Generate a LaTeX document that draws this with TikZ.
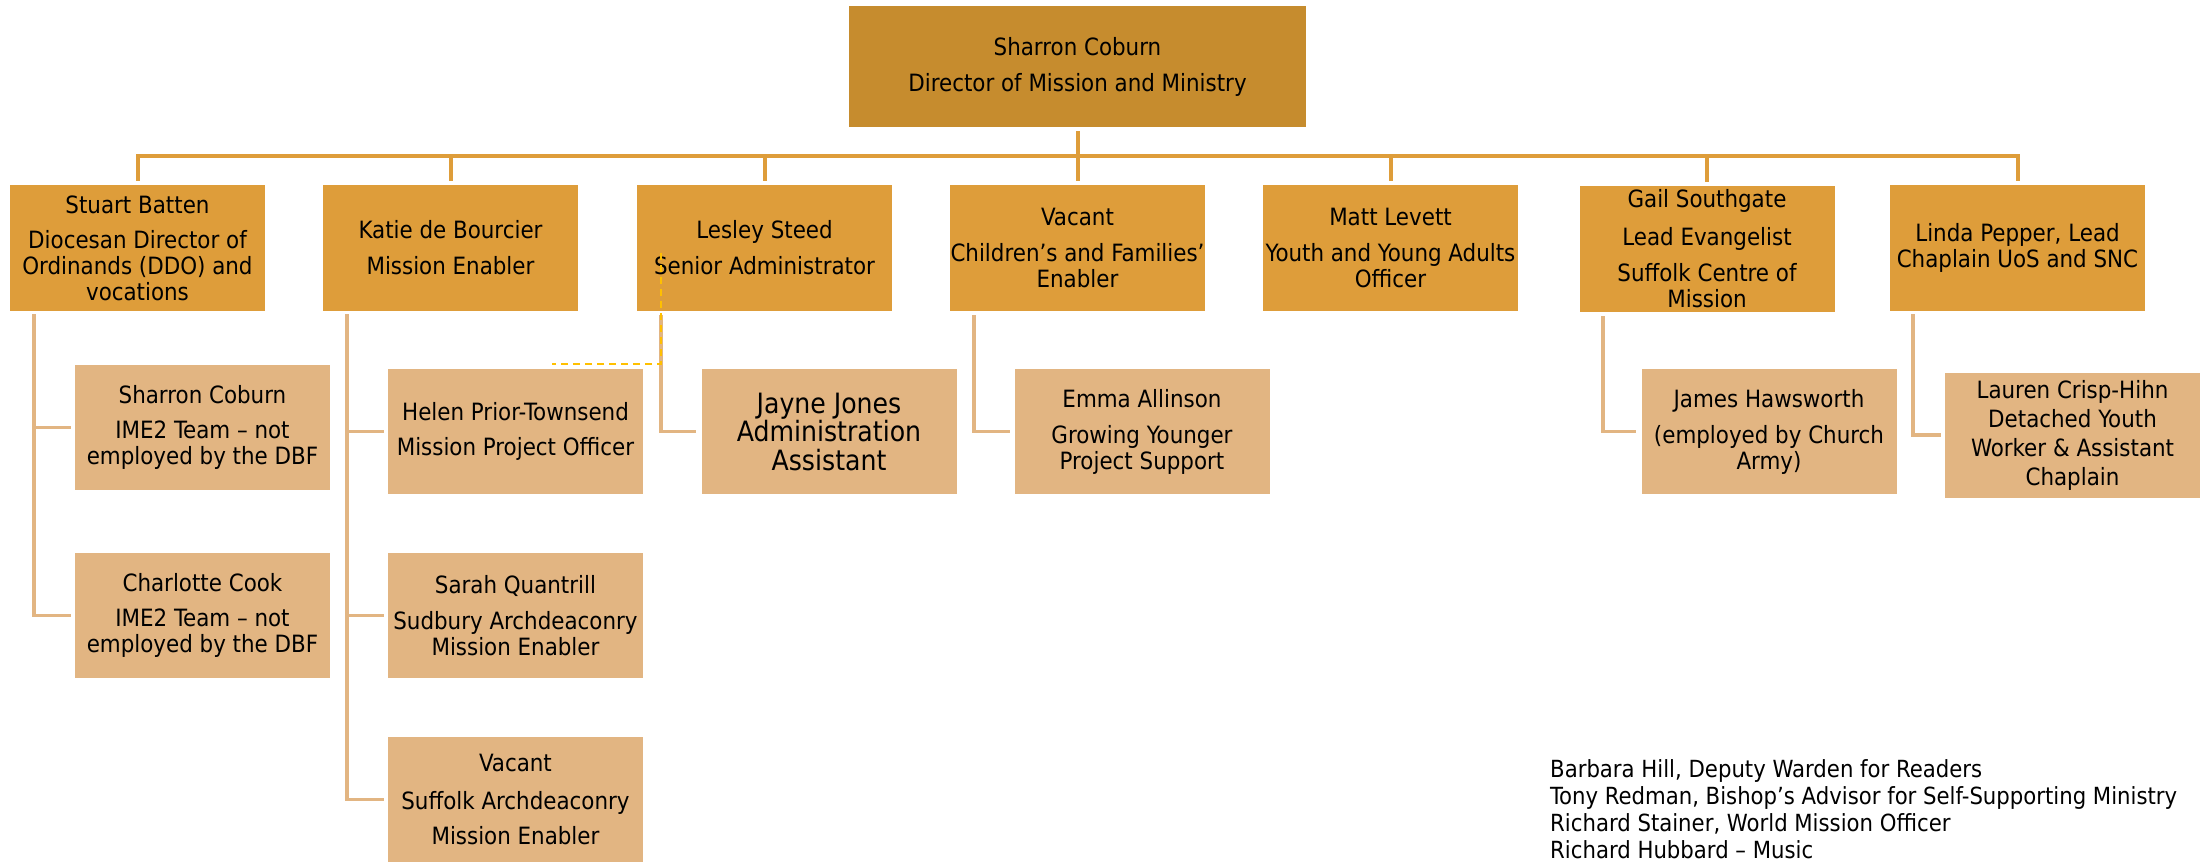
\documentclass[tikz,border=0pt]{standalone}
\usepackage{fontspec}
\setmainfont{DejaVu Sans Condensed}
\usetikzlibrary{calc}
\definecolor{topc}{HTML}{C68C2E}
\definecolor{midc}{HTML}{DE9D3A}
\definecolor{lightc}{HTML}{E2B582}
\definecolor{dashc}{HTML}{FFC000}
\begin{document}
\begin{tikzpicture}[x=1pt,y=-1pt,
  boxbase/.style={rectangle, inner sep=0pt, align=center, text=black, font=\fontsize{23.8}{26}\selectfont},
  topbox/.style={boxbase, fill=topc, minimum width=457pt, minimum height=121pt},
  lvtwo/.style={boxbase, fill=midc, minimum width=255pt, minimum height=126pt},
  lvthree/.style={boxbase, fill=lightc, minimum width=255pt, minimum height=125pt},
  mainline/.style={draw=midc, line width=4pt},
  subline/.style={draw=lightc, line width=3.5pt},
  dashline/.style={draw=dashc, line width=2.5pt, dash pattern=on 7pt off 5pt},
  foot/.style={anchor=base west, inner sep=0pt, text=black, font=\fontsize{23.6}{26}\selectfont}]
\useasboundingbox (0,0) rectangle (2212,864);

% top
\node[topbox] (top) at (1077.5,66.5) {Sharron Coburn\\[10pt]Director of Mission and Ministry};

% level 2
\node[lvtwo] (stuart) at (137.5,248) {Stuart Batten\\[9pt]Diocesan Director of\\Ordinands (DDO) and\\vocations};
\node[lvtwo] (katie) at (450.5,248) {Katie de Bourcier\\[10pt]Mission Enabler};
\node[lvtwo] (lesley) at (764.5,248) {Lesley Steed\\[10pt]Senior Administrator};
\node[lvtwo] (vacant) at (1077.5,248) {Vacant\\[10pt]Children’s and Families’\\Enabler};
\node[lvtwo] (matt) at (1390.5,248) {Matt Levett\\[10pt]Youth and Young Adults\\Officer};
\node[lvtwo] (gail) at (1707,249) {Gail Southgate\\[12pt]Lead Evangelist\\[10pt]Suffolk Centre of\\Mission};
\node[lvtwo] (linda) at (2017.5,248) {Linda Pepper, Lead\\Chaplain UoS and SNC};

% level 3
\node[lvthree] (sharron) at (202.5,427.5) {Sharron Coburn\\[9pt]IME2 Team – not\\employed by the DBF};
\node[lvthree] (charlotte) at (202.5,615.5) {Charlotte Cook\\[9pt]IME2 Team – not\\employed by the DBF};
\node[lvthree] (helen) at (515.5,431.5) {Helen Prior-Townsend\\[9pt]Mission Project Officer};
\node[lvthree] (sarah) at (515.5,615.5) {Sarah Quantrill\\[10pt]Sudbury Archdeaconry\\Mission Enabler};
\node[lvthree] (vacsuf) at (515.5,799.5) {Vacant\\[12pt]Suffolk Archdeaconry\\[9pt]Mission Enabler};
\node[lvthree, font=\fontsize{28}{28.5}\selectfont] (jayne) at (829,431.5) {Jayne Jones\\Administration\\Assistant};
\node[lvthree] (emma) at (1142,431.5) {Emma Allinson\\[10pt]Growing Younger\\Project Support};
\node[lvthree] (james) at (1769,431.5) {James Hawsworth\\[10pt](employed by Church\\Army)};
\node[lvthree, font=\fontsize{23.8}{29}\selectfont] (lauren) at (2072.5,435) {Lauren Crisp-Hihn\\Detached Youth\\Worker \& Assistant\\Chaplain};

% main connectors
\coordinate (bar) at (0,156);
\draw[mainline] ($(top.south)+(0,4)$) -- ($(vacant.north)+(0,-4)$);
\draw[mainline] ($(stuart.north)+(0,-4)$) -- (stuart.north |- bar) -- (linda.north |- bar) -- ($(linda.north)+(0,-4)$);
\foreach \n in {katie,lesley,matt,gail}
  \draw[mainline] (\n.north |- bar) -- ($(\n.north)+(0,-4)$);

% sub connectors
\coordinate (sx) at (34,0);
\coordinate (kx) at (347,0);
\coordinate (lx) at (661,0);
\coordinate (vx) at (974,0);
\coordinate (gx) at (1603,0);
\coordinate (dx) at (1913,0);
\draw[subline] ($(sx |- stuart.south)+(0,3)$) -- (sx |- charlotte.west) -- ($(charlotte.west)+(-4,0)$);
\draw[subline] (sx |- sharron.west) -- ($(sharron.west)+(-4,0)$);
\draw[subline] ($(kx |- katie.south)+(0,3)$) -- (kx |- vacsuf.west) -- ($(vacsuf.west)+(-4,0)$);
\draw[subline] (kx |- helen.west) -- ($(helen.west)+(-4,0)$);
\draw[subline] (kx |- sarah.west) -- ($(sarah.west)+(-4,0)$);
\draw[subline] ($(lx |- lesley.south)+(0,4)$) -- (lx |- jayne.west) -- ($(jayne.west)+(-5,0)$);
\draw[subline] ($(vx |- vacant.south)+(0,4)$) -- (vx |- emma.west) -- ($(emma.west)+(-4,0)$);
\draw[subline] ($(gx |- gail.south)+(0,4)$) -- (gx |- james.west) -- ($(james.west)+(-5,0)$);
\draw[subline] ($(dx |- linda.south)+(0,3)$) -- (dx |- lauren.west) -- ($(lauren.west)+(-4,0)$);

% dashed link
\coordinate (dA) at (661,253);
\coordinate (dB) at (552,364);
\draw[dashline] (dA) |- (dB);

% footnote
\node[foot] (f1) at (1550,777) {Barbara Hill, Deputy Warden for Readers};
\node[foot] (f2) at (1550,804) {Tony Redman, Bishop’s Advisor for Self-Supporting Ministry};
\node[foot] (f3) at (1550,831) {Richard Stainer, World Mission Officer};
\node[foot] (f4) at (1550,858) {Richard Hubbard – Music};
\end{tikzpicture}
\end{document}
